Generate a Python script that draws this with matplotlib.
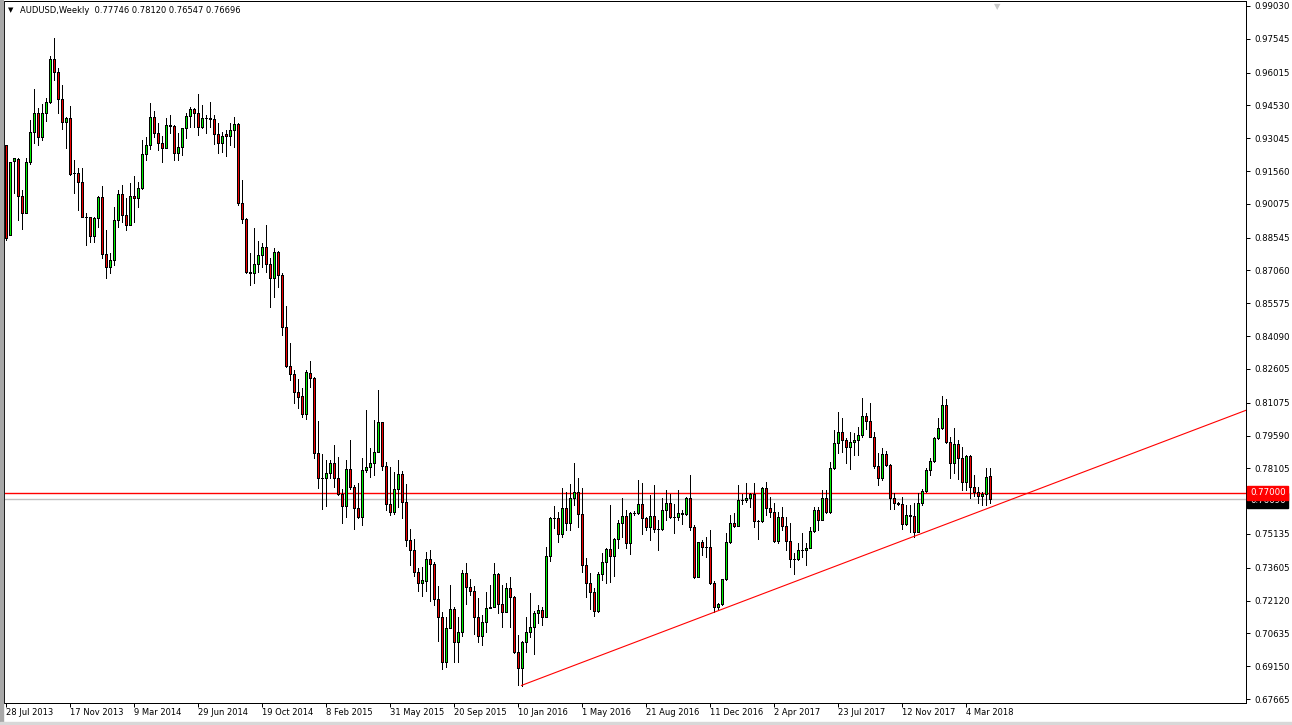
import matplotlib.pyplot as plt
from matplotlib.patches import Rectangle
from matplotlib.collections import PatchCollection

# weekly AUDUSD candles, first bar = 28 Jul 2013
opens = [
    .9274, .8867, .9202, .9209, .9043, .8965, .9198, .9331, .9417, .9312,
    .9417, .9467, .9662, .9603, .9481, .9379, .9395, .9149, .9149, .9105,
    .8950, .8946, .8864, .8945, .9037, .8780, .8720, .8753, .8934, .9052,
    .8957, .8912, .9043, .9032, .9081, .9232, .9274, .9399, .9327, .9281,
    .9259, .9364, .9362, .9236, .9266, .9349, .9405, .9435, .9417, .9354,
    .9395, .9396, .9393, .9322, .9281, .9322, .9315, .9342, .9369, .9013,
    .8937, .8701, .8693, .8734, .8776, .8811, .8734, .8670, .8788, .8685,
    .8452, .8275, .8236, .8157, .8138, .8056, .8240, .8218, .7878, .7768,
    .7765, .7788, .7833, .7765, .7693, .7641, .7806, .7727, .7629, .7592,
    .7803, .7815, .7833, .7883, .8022, .7823, .7648, .7614, .7715, .7783,
    .7657, .7486, .7441, .7340, .7290, .7302, .7400, .7378, .7218, .7139,
    .6932, .7086, .7172, .7026, .7068, .7335, .7272, .7257, .7139, .7053,
    .7113, .7180, .7184, .7331, .7195, .7162, .7267, .7227, .6978, .6905,
    .7023, .7071, .7091, .7154, .7169, .7139, .7414, .7584, .7586, .7513,
    .7629, .7562, .7675, .7702, .7602, .7373, .7290, .7249, .7166, .7331,
    .7385, .7445, .7415, .7491, .7562, .7595, .7471, .7607, .7608, .7647,
    .7584, .7546, .7595, .7534, .7535, .7622, .7652, .7592, .7590, .7607,
    .7605, .7675, .7546, .7320, .7476, .7453, .7456, .7290, .7182, .7195,
    .7308, .7476, .7561, .7551, .7667, .7668, .7675, .7693, .7572, .7571,
    .7720, .7629, .7611, .7483, .7592, .7551, .7483, .7399, .7398, .7441,
    .7440, .7448, .7527, .7622, .7577, .7675, .7611, .7810, .7924, .7973,
    .7939, .7909, .7928, .7939, .7961, .8047, .8026, .7954, .7823, .7765,
    .7874, .7826, .7675, .7652, .7650, .7557, .7599, .7597, .7524, .7655,
    .7708, .7803, .7844, .7946, .7991, .8097, .7928, .7833, .7919, .7855,
    .7747, .7866, .7724, .7705, .7685, .7694, .77746,
]
highs = [
    .9274, .9198, .9214, .9216, .9070, .9214, .9387, .9526, .9440, .9459,
    .9485, .9677, .9757, .9621, .9545, .9399, .9450, .9206, .9168, .9171,
    .8968, .8947, .8950, .9043, .9090, .8889, .8784, .8995, .9070, .9093,
    .9033, .9100, .9134, .9108, .9297, .9312, .9462, .9429, .9375, .9315,
    .9395, .9410, .9364, .9327, .9352, .9417, .9447, .9440, .9505, .9455,
    .9410, .9470, .9410, .9375, .9334, .9342, .9372, .9402, .9375, .9116,
    .8942, .8784, .8897, .8840, .8832, .8912, .8761, .8806, .8796, .8693,
    .8545, .8376, .8256, .8213, .8173, .8256, .8296, .8222, .8025, .7875,
    .7848, .7848, .7916, .7860, .7715, .7848, .7939, .7735, .7745, .7856,
    .8074, .7901, .8029, .8165, .8022, .7841, .7818, .7795, .7848, .7798,
    .7738, .7536, .7491, .7361, .7365, .7433, .7441, .7388, .7278, .7162,
    .7136, .7282, .7181, .7136, .7350, .7380, .7308, .7278, .7222, .7147,
    .7249, .7282, .7384, .7338, .7282, .7290, .7320, .7234, .7056, .7031,
    .7139, .7245, .7165, .7192, .7184, .7456, .7592, .7640, .7614, .7723,
    .7705, .7738, .7833, .7765, .7720, .7403, .7335, .7267, .7343, .7426,
    .7448, .7644, .7494, .7577, .7675, .7622, .7614, .7618, .7758, .7743,
    .7590, .7690, .7735, .7577, .7678, .7712, .7693, .7648, .7712, .7622,
    .7682, .7780, .7554, .7479, .7486, .7501, .7531, .7300, .7200, .7310,
    .7516, .7599, .7607, .7735, .7693, .7743, .7697, .7743, .7575, .7727,
    .7750, .7682, .7652, .7614, .7634, .7592, .7561, .7426, .7474, .7516,
    .7474, .7546, .7637, .7637, .7712, .7712, .7841, .7984, .8067, .8037,
    .7946, .7976, .7969, .7999, .8127, .8062, .8108, .7976, .7881, .7901,
    .7890, .7830, .7697, .7660, .7682, .7644, .7644, .7655, .7697, .7715,
    .7810, .7856, .7954, .8037, .8138, .8123, .7954, .7991, .7939, .7909,
    .7871, .7871, .7780, .7727, .7705, .7810, .78120,
]
lows = [
    .8844, .8867, .9055, .8934, .8892, .8965, .9186, .9284, .9274, .9296,
    .9384, .9462, .9568, .9420, .9346, .9262, .9138, .9055, .8980, .8950,
    .8821, .8833, .8836, .8904, .8761, .8670, .8693, .8731, .8904, .8927,
    .8889, .8912, .8927, .8995, .9073, .9206, .9254, .9312, .9251, .9195,
    .9259, .9327, .9206, .9206, .9229, .9304, .9357, .9354, .9319, .9349,
    .9330, .9354, .9278, .9236, .9244, .9226, .9274, .9266, .9002, .8919,
    .8693, .8640, .8648, .8700, .8720, .8701, .8539, .8587, .8633, .8414,
    .8271, .8210, .8105, .8082, .8041, .8032, .8180, .7856, .7720, .7625,
    .7641, .7765, .7727, .7690, .7562, .7592, .7715, .7534, .7584, .7554,
    .7795, .7773, .7780, .7883, .7803, .7622, .7599, .7602, .7637, .7584,
    .7460, .7373, .7325, .7257, .7234, .7257, .7212, .7192, .7030, .6901,
    .6913, .7086, .6936, .6936, .7052, .7196, .7237, .7061, .7026, .7011,
    .7071, .7177, .7184, .7154, .7094, .7162, .7094, .6973, .6830, .6827,
    .6981, .7049, .6970, .7109, .7101, .7139, .7391, .7540, .7476, .7501,
    .7531, .7531, .7645, .7546, .7340, .7230, .7174, .7144, .7162, .7305,
    .7290, .7295, .7325, .7448, .7501, .7448, .7421, .7598, .7605, .7515,
    .7531, .7486, .7524, .7441, .7530, .7577, .7587, .7516, .7577, .7560,
    .7600, .7531, .7313, .7318, .7418, .7411, .7288, .7162, .7175, .7192,
    .7305, .7472, .7546, .7548, .7648, .7660, .7637, .7546, .7489, .7569,
    .7599, .7592, .7479, .7471, .7531, .7441, .7365, .7332, .7396, .7411,
    .7373, .7448, .7524, .7531, .7575, .7607, .7608, .7808, .7878, .7886,
    .7836, .7806, .7871, .7871, .7953, .7987, .7951, .7810, .7735, .7758,
    .7821, .7625, .7625, .7645, .7534, .7554, .7524, .7501, .7521, .7644,
    .7705, .7780, .7840, .7942, .7988, .7924, .7765, .7788, .7761, .7712,
    .7712, .7675, .7685, .7652, .7644, .7644, .76547,
]
closes = [
    .8851, .9198, .9214, .9043, .8965, .9198, .9331, .9417, .9312, .9417,
    .9467, .9662, .9603, .9481, .9379, .9395, .9143, .9147, .9105, .8950,
    .8948, .8864, .8945, .9037, .8780, .8720, .8753, .8934, .9052, .8957,
    .8912, .9043, .9032, .9081, .9232, .9274, .9399, .9327, .9281, .9259,
    .9364, .9362, .9236, .9266, .9349, .9405, .9435, .9417, .9354, .9395,
    .9396, .9393, .9322, .9281, .9316, .9315, .9342, .9369, .9013, .8937,
    .8701, .8693, .8734, .8776, .8811, .8734, .8670, .8788, .8685, .8452,
    .8275, .8236, .8157, .8135, .8056, .8245, .8218, .7878, .7768, .7765,
    .7788, .7833, .7765, .7693, .7641, .7806, .7727, .7629, .7592, .7803,
    .7815, .7833, .7883, .8022, .7823, .7648, .7614, .7715, .7783, .7657,
    .7486, .7441, .7340, .7290, .7305, .7400, .7378, .7218, .7139, .6932,
    .7086, .7172, .7026, .7068, .7335, .7272, .7257, .7139, .7053, .7113,
    .7180, .7184, .7331, .7195, .7162, .7267, .7227, .6978, .6905, .7023,
    .7071, .7091, .7154, .7169, .7139, .7414, .7584, .7586, .7513, .7629,
    .7562, .7675, .7702, .7602, .7373, .7290, .7249, .7166, .7331, .7385,
    .7445, .7415, .7491, .7562, .7595, .7471, .7607, .7608, .7647, .7584,
    .7546, .7595, .7534, .7535, .7622, .7652, .7592, .7590, .7607, .7605,
    .7675, .7546, .7320, .7476, .7453, .7456, .7290, .7182, .7195, .7308,
    .7476, .7561, .7551, .7667, .7668, .7675, .7693, .7572, .7571, .7720,
    .7629, .7611, .7483, .7592, .7551, .7483, .7399, .7398, .7441, .7440,
    .7448, .7527, .7622, .7577, .7675, .7611, .7810, .7924, .7973, .7939,
    .7909, .7928, .7939, .7961, .8047, .8026, .7954, .7823, .7765, .7874,
    .7826, .7675, .7652, .7650, .7557, .7599, .7597, .7524, .7655, .7708,
    .7803, .7844, .7946, .7991, .8097, .7928, .7833, .7919, .7855, .7747,
    .7866, .7724, .7705, .7685, .7694, .7773, .76696,
]

date_labels = ['28 Jul 2013', '17 Nov 2013', '9 Mar 2014', '29 Jun 2014', '19 Oct 2014',
               '8 Feb 2015', '31 May 2015', '20 Sep 2015', '10 Jan 2016', '1 May 2016',
               '21 Aug 2016', '11 Dec 2016', '2 Apr 2017', '23 Jul 2017', '12 Nov 2017',
               '4 Mar 2018']
date_step = 16  # one label every 16 weeks

price_ticks = [0.99030, 0.97545, 0.96015, 0.94530, 0.93045, 0.91560, 0.90075, 0.88545,
               0.87060, 0.85575, 0.84090, 0.82605, 0.81075, 0.79590, 0.78105, 0.75135,
               0.73605, 0.72120, 0.70635, 0.69150, 0.67665]

level = 0.77000      # horizontal resistance line
bid = 0.76696        # last price
trend_a = (129, 0.6828)   # trendline anchor (Jan 2016 low)
trend_b = (177, 0.7158)   # second touch (Dec 2016 low)

header = 'AUDUSD,Weekly  0.77746 0.78120 0.76547 0.76696'

up_color = '#00f000'
down_color = '#f00000'
px = 0.72  # one pixel in points

W, H = 1292, 725
fig = plt.figure(figsize=(W / 100, H / 100), dpi=100)
fig.patch.set_facecolor('white')
ax = fig.add_axes([4 / W, 1 - 703 / H, 1242 / W, 702 / H])

n = len(closes)
xs = list(range(n))
ax.vlines(xs, lows, highs, colors='black', linewidth=px, antialiased=False, zorder=3)

bodies = []
fcs = []
for i in range(n):
    o, c = opens[i], closes[i]
    bodies.append(Rectangle((i - 0.25, min(o, c)), 0.5, abs(c - o)))
    fcs.append(up_color if c >= o else down_color)
ax.add_collection(PatchCollection(bodies, facecolors=fcs, edgecolors='black',
                                  linewidths=px, antialiaseds=False, zorder=4))

# 4 px per bar, bar centres on pixel centres
x_left = -0.375
x_right = x_left + 1242 / 4
ax.plot([x_left, x_right], [bid, bid], color='#c0c0c0', lw=1.0, zorder=2)
ax.plot([x_left, x_right], [level, level], color='#ff0000', lw=1.0, zorder=2.5)
slope = (trend_b[1] - trend_a[1]) / (trend_b[0] - trend_a[0])
ax.plot([trend_a[0], x_right], [trend_a[1], trend_a[1] + slope * (x_right - trend_a[0])],
        color='#ff0000', lw=0.8, zorder=5)

ax.set_xlim(x_left, x_right)
ax.set_ylim(0.67484, 0.99256)

ax.yaxis.tick_right()
ax.set_yticks(price_ticks)
ax.set_yticklabels([f'{v:.5f}' for v in price_ticks])
ax.tick_params(axis='y', length=3, width=px, labelsize=6.2, pad=3, colors='black')

date_idx = [k * date_step for k in range(len(date_labels))]
ax.set_xticks(date_idx)
ax.set_xticklabels([])
ax.tick_params(axis='x', length=3, width=px)
for i, lbl in zip(date_idx, date_labels):
    ax.annotate(lbl, xy=(i, 0), xycoords=('data', 'axes fraction'), xytext=(1, -5),
                textcoords='offset pixels', ha='left', va='top', fontsize=6)

for s in ax.spines.values():
    s.set_linewidth(px)
    s.set_color('black')

ax.annotate(f'{bid:.5f}', xy=(1, bid), xycoords=('axes fraction', 'data'), xytext=(4, -1),
            textcoords='offset pixels', ha='left', va='center', fontsize=6.2, color='white',
            bbox=dict(boxstyle='square,pad=0.3', fc='black', ec='black'),
            annotation_clip=False, zorder=10)
ax.annotate(f'{level:.5f}', xy=(1, level), xycoords=('axes fraction', 'data'), xytext=(4, 0),
            textcoords='offset pixels', ha='left', va='center', fontsize=6.2, color='white',
            bbox=dict(boxstyle='square,pad=0.3', fc='red', ec='red'),
            annotation_clip=False, zorder=11)

fig.text(8 / W, 1 - 10.5 / H, '\u25bc', fontsize=5, va='center', ha='left')
fig.text(20 / W, 1 - 10.5 / H, header, fontsize=6, va='center', ha='left')
fig.text(997 / W, 1 - 7 / H, '\u25bc', fontsize=6, color='#c8c8c8', va='center', ha='center')

fig.patches.append(Rectangle((0, 0), 3 / W, 1, transform=fig.transFigure,
                             color='#a8a8a8', zorder=0))
fig.patches.append(Rectangle((0, 0), 1, 3 / H, transform=fig.transFigure,
                             color='#d8d8d8', zorder=0))

fig.savefig('out.png', dpi=100)
